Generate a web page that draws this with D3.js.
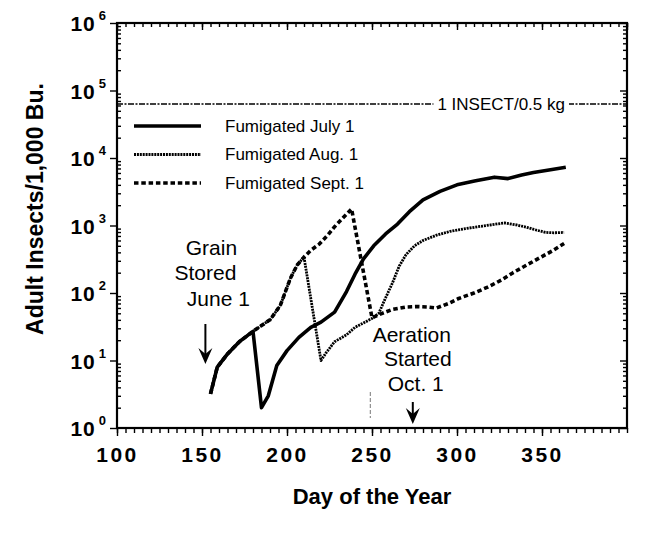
<!DOCTYPE html>
<html><head><meta charset="utf-8">
<script src="https://cdn.jsdelivr.net/npm/d3@7"></script>
<style>
body{margin:0;background:#fff;}
svg{display:block;}
text{font-family:"Liberation Sans",Arial,Helvetica,sans-serif;fill:#000;}
</style></head><body>
<svg id="c" width="670" height="533"></svg>
<script>
// ---- data (day of year, adult insects / 1,000 bu) ----
const julyDays  = [155,159,165,172,180,185,189,194,200,207,214,220,228,235,240,245,251,258,265,272,280,290,300,311,322,330,338,345,355,364];
const julyVals  = [3.2,8,12.5,19,27,2.0,3.0,8.4,14,22,31,37,52,105,190,320,500,750,1050,1600,2400,3200,4000,4600,5200,4950,5600,6100,6700,7300];
const augDays   = [155,159,165,172,180,185,190,196,202,206,210,220,223,228,235,240,245,250,254,258,262,266,270,275,280,288,296,305,315,322,328,335,341,347,352,357,363];
const augVals   = [3.2,8,12.5,19,27,33,40,65,165,260,340,10,13,19,24,31,36,42,50,85,140,250,370,500,600,720,820,900,980,1040,1090,1020,940,850,790,780,790];
const septDays  = [155,159,165,172,180,185,190,196,202,206,210,214,219,224,228,233,238,250,256,262,270,277,283,288,295,301,310,318,326,333,341,348,356,363];
const septVals  = [3.2,8,12.5,19,27,33,40,65,165,260,340,430,530,720,960,1300,1750,43,50,57,62,63,62,60,70,83,100,122,155,200,260,325,420,540];
const seriesNames = ["Fumigated July 1","Fumigated Aug. 1","Fumigated Sept. 1"];
const xTickLabels = [100,150,200,250,300,350];
const yExponents  = [0,1,2,3,4,5,6];
const thresholdValue = 6.3e4;
const thresholdLabel = "1 INSECT/0.5 kg";
const storedDay = 152, aerationDay = 274;

// ---- layout ----
const svg = d3.select("#c");
const L=117,R=627,T=23,B=428;
const x = d3.scaleLinear().domain([100,400]).range([L,R]);
const y = d3.scaleLog().domain([1,1e6]).range([B,T]);

const minorY = [];
for (let e=0;e<6;e++) for (let k=2;k<=9;k++) minorY.push(k*Math.pow(10,e));
const majorY = yExponents.map(e=>Math.pow(10,e));
const minorX = d3.range(100,401,5);

function clean(g){ g.select(".domain").remove(); g.selectAll("line").attr("stroke","#000").attr("stroke-width",1.4); }

// bottom axis
svg.append("g").attr("transform",`translate(0,${B})`)
  .call(d3.axisBottom(x).tickValues(minorX).tickSize(5).tickFormat(""))
  .call(clean);
const bx = svg.append("g").attr("transform",`translate(0,${B})`)
  .call(d3.axisBottom(x).tickValues(xTickLabels).tickSize(8).tickFormat(d3.format("d")))
  .call(clean);
bx.selectAll("text").attr("y",34).attr("dy",0).attr("font-size",21).attr("font-weight","bold")
  .attr("letter-spacing","2.5px").attr("fill","#000");
// top axis
svg.append("g").attr("transform",`translate(0,${T})`)
  .call(d3.axisTop(x).tickValues(minorX).tickSize(-4).tickFormat("")).call(clean);
svg.append("g").attr("transform",`translate(0,${T})`)
  .call(d3.axisTop(x).tickValues(xTickLabels.concat([400])).tickSize(-7).tickFormat("")).call(clean);
// left axis
svg.append("g").attr("transform",`translate(${L},0)`)
  .call(d3.axisLeft(y).tickValues(minorY).tickSize(-4).tickFormat("")).call(clean);
svg.append("g").attr("transform",`translate(${L},0)`)
  .call(d3.axisLeft(y).tickValues(majorY).tickSize(7).tickFormat("")).call(clean);
// right axis
svg.append("g").attr("transform",`translate(${R},0)`)
  .call(d3.axisRight(y).tickValues(minorY).tickSize(-4).tickFormat("")).call(clean);
svg.append("g").attr("transform",`translate(${R},0)`)
  .call(d3.axisRight(y).tickValues(majorY).tickSize(-7).tickFormat("")).call(clean);

// y tick labels 10^n
const yl = svg.append("g").selectAll("text").data(yExponents).join("text")
  .attr("x",106).attr("y",e=>y(Math.pow(10,e))+8).attr("text-anchor","end");
yl.append("tspan").text("10").attr("font-size",21).attr("font-weight","bold").attr("letter-spacing","1px");
yl.append("tspan").text(e=>e).attr("font-size",13).attr("font-weight","bold").attr("dy",-11).attr("dx",3);

// frame
svg.append("rect").attr("x",L).attr("y",T).attr("width",R-L).attr("height",B-T)
  .attr("fill","none").attr("stroke","#000").attr("stroke-width",2.2);

// threshold line
svg.append("line").attr("x1",L).attr("x2",R).attr("y1",y(thresholdValue)).attr("y2",y(thresholdValue))
  .attr("stroke","#000").attr("stroke-width",1.4).attr("stroke-dasharray","6,1.5,2,1.5");
const tbg = svg.append("rect").attr("fill","#fff");
const tl = svg.append("text").attr("x",x(326)).attr("y",y(thresholdValue)).attr("dy","0.35em")
  .attr("text-anchor","middle").attr("font-size",17).text(thresholdLabel);
const bb = tl.node().getBBox();
tbg.attr("x",bb.x-4).attr("y",bb.y).attr("width",bb.width+8).attr("height",bb.height);

// faint mark at day 249
svg.append("line").attr("x1",x(249)).attr("x2",x(249)).attr("y1",392).attr("y2",418)
  .attr("stroke","#555").attr("stroke-width",0.8).attr("stroke-dasharray","4,2");

// lines
const line = d3.line().x(d=>x(d[0])).y(d=>y(d[1]));
const styles = [
  {w:3.6, dash:null},
  {w:2.8, dash:"2,0.9"},
  {w:3.6, dash:"4.5,2.8"}
];
const series = [d3.zip(julyDays,julyVals), d3.zip(augDays,augVals), d3.zip(septDays,septVals)];
[2,1,0].forEach(i=>{
  svg.append("path").datum(series[i]).attr("d",line).attr("fill","none").attr("stroke","#000")
    .attr("stroke-width",styles[i].w).attr("stroke-dasharray",styles[i].dash).attr("stroke-linejoin","round");
});

// legend
const lg = svg.append("g");
seriesNames.forEach((n,i)=>{
  const yy = 126 + i*28.5;
  lg.append("line").attr("x1",134).attr("x2",201).attr("y1",yy).attr("y2",yy).attr("stroke","#000")
    .attr("stroke-width",styles[i].w).attr("stroke-dasharray",styles[i].dash);
  lg.append("text").attr("x",225).attr("y",yy).attr("dy","0.35em").attr("font-size",17).text(n);
});

// annotations
function arrow(xp,y1,y2){
  svg.append("line").attr("x1",xp).attr("x2",xp).attr("y1",y1).attr("y2",y2-6).attr("stroke","#000").attr("stroke-width",2);
  svg.append("path").attr("d",`M${xp-7},${y2-16}L${xp},${y2}L${xp+7},${y2-16}L${xp},${y2-10}Z`).attr("fill","#000");
}
[["Grain",6,255],["Stored",0,280],["June 1",13,306]].forEach(t=>
  svg.append("text").attr("x",x(storedDay)+t[1]).attr("y",t[2]).attr("text-anchor","middle").attr("font-size",21).text(t[0]));
arrow(x(storedDay),324,364);
[["Aeration",-1,342],["Started",5,366],["Oct. 1",3,391]].forEach(t=>
  svg.append("text").attr("x",x(aerationDay)+t[1]).attr("y",t[2]).attr("text-anchor","middle").attr("font-size",21).text(t[0]));
arrow(x(aerationDay),402,424);

// axis titles
svg.append("text").attr("transform","translate(43,209) rotate(-90)").attr("text-anchor","middle")
  .attr("font-size",23).attr("font-weight","bold").text("Adult Insects/1,000 Bu.");
svg.append("text").attr("x",(L+R)/2).attr("y",504).attr("text-anchor","middle")
  .attr("font-size",22).attr("font-weight","bold").text("Day of the Year");
</script></body></html>
